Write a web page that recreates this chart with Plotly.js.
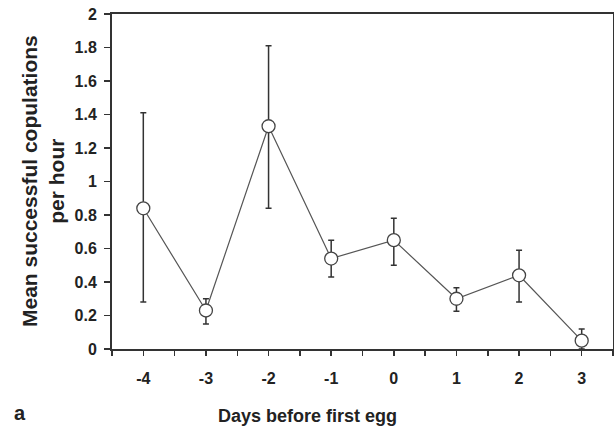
<!DOCTYPE html>
<html>
<head>
<meta charset="utf-8">
<script src="https://cdn.plot.ly/plotly-3.0.1.min.js"></script>
<style>html,body{margin:0;padding:0;background:#fff;}#chart{width:614px;height:428px;}</style>
</head>
<body>
<div id="chart"></div>
<script>
var days = [-4, -3, -2, -1, 0, 1, 2, 3];
var meanCop = [0.84, 0.23, 1.33, 0.54, 0.65, 0.30, 0.44, 0.05];
var errUpper = [0.57, 0.07, 0.48, 0.11, 0.13, 0.065, 0.15, 0.07];
var errLower = [0.56, 0.08, 0.49, 0.11, 0.15, 0.075, 0.16, 0.05];
var yTicks = [0, 0.2, 0.4, 0.6, 0.8, 1, 1.2, 1.4, 1.6, 1.8, 2];
var xTicks = [-4, -3, -2, -1, 0, 1, 2, 3];
var xMinorTicks = [-4.5, -3.5, -2.5, -1.5, -0.5, 0.5, 1.5, 2.5, 3.5];

var axisColor = '#333';
var fontFam = '"Liberation Sans", Arial, sans-serif';

var trace = {
  x: days, y: meanCop, type: 'scatter', mode: 'lines+markers',
  line: {color: '#555', width: 1.2},
  marker: {symbol: 'circle', size: 13, color: '#fff', line: {color: '#444', width: 1.3}},
  error_y: {type: 'data', symmetric: false, array: errUpper, arrayminus: errLower,
            color: '#333', thickness: 1.5, width: 3},
  cliponaxis: false
};

var layout = {
  width: 614, height: 428,
  margin: {l: 112, r: 1, t: 14, b: 79},
  paper_bgcolor: '#fff', plot_bgcolor: '#fff',
  showlegend: false,
  font: {family: fontFam, color: '#222'},
  xaxis: {
    range: [-4.5, 3.5], tickvals: xTicks, ticktext: xTicks.map(String),
    showgrid: false, zeroline: false, showline: true, mirror: true,
    linecolor: axisColor, linewidth: 2,
    ticks: 'outside', ticklen: 5, tickwidth: 1.5, tickcolor: axisColor,
    minor: {tickvals: xMinorTicks, ticks: 'outside', ticklen: 5, tickwidth: 1.5, tickcolor: axisColor, showgrid: false},
    tickfont: {family: fontFam, size: 16, color: '#222', weight: 'bold'},
    ticklabelstandoff: 9
  },
  yaxis: {
    range: [0, 2], tickvals: yTicks, ticktext: yTicks.map(String),
    showgrid: false, zeroline: false, showline: true, mirror: true,
    linecolor: axisColor, linewidth: 2,
    ticks: 'outside', ticklen: 6, tickwidth: 1.5, tickcolor: axisColor,
    tickfont: {family: fontFam, size: 16, color: '#222', weight: 'bold'},
    ticklabelstandoff: 4
  },
  annotations: [
    {text: 'Mean successful copulations<br>per hour', xref: 'paper', yref: 'paper',
     x: -0.1387, y: 0.5, xanchor: 'center', yanchor: 'middle', textangle: -90, showarrow: false,
     font: {family: fontFam, size: 21, color: '#222', weight: 'bold'}},
    {text: 'Days before first egg', xref: 'paper', yref: 'paper',
     x: 0.5, y: 0, xanchor: 'center', yanchor: 'middle', yshift: -67, xshift: -55, showarrow: false,
     font: {family: fontFam, size: 18, color: '#222', weight: 'bold'}},
    {text: 'a', xref: 'paper', yref: 'paper',
     x: 0, y: 0, xanchor: 'left', yanchor: 'middle', xshift: -100, yshift: -64, showarrow: false,
     font: {family: fontFam, size: 20, color: '#222', weight: 'bold'}}
  ]
};

Plotly.newPlot('chart', [trace], layout, {displayModeBar: false, staticPlot: true});
</script>
</body>
</html>
